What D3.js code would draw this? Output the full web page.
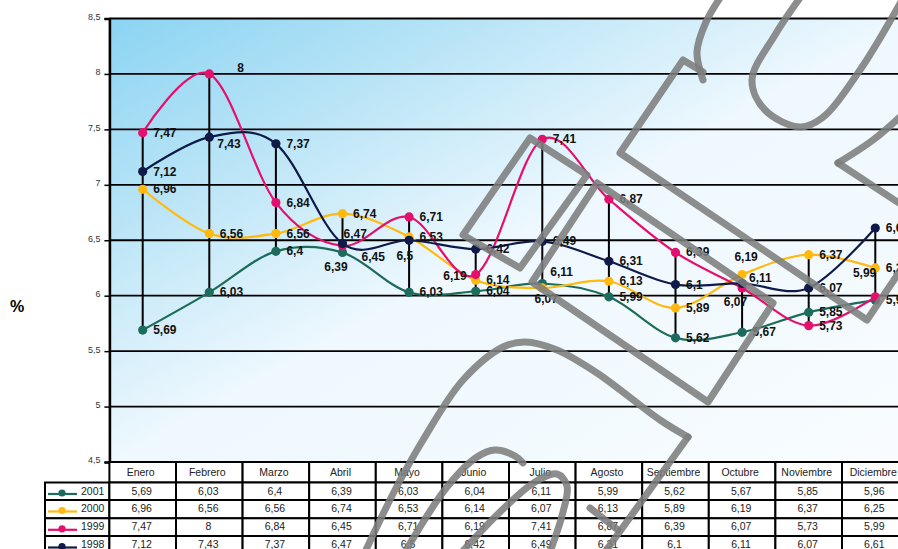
<!DOCTYPE html>
<html><head><meta charset="utf-8">
<script src="https://cdn.jsdelivr.net/npm/d3@7"></script>
<style>body{margin:0;background:#fff}svg{display:block;font-family:"Liberation Sans",Arial,sans-serif}</style>
</head><body><svg id="c" width="898" height="549"></svg>
<script>
// ---- data ----
const months = ["Enero","Febrero","Marzo","Abril","Mayo","Junio","Julio","Agosto","Septiembre","Octubre","Noviembre","Diciembre"];
const years = ["2001","2000","1999","1998"];
const v2001 = [5.69,6.03,6.4,6.39,6.03,6.04,6.11,5.99,5.62,5.67,5.85,5.96];
const v2000 = [6.96,6.56,6.56,6.74,6.53,6.14,6.07,6.13,5.89,6.19,6.37,6.25];
const v1999 = [7.47,8,6.84,6.45,6.71,6.19,7.41,6.87,6.39,6.07,5.73,5.99];
const v1998 = [7.12,7.43,7.37,6.47,6.5,6.42,6.49,6.31,6.1,6.11,6.07,6.61];
const yTicks = [4.5,5,5.5,6,6.5,7,7.5,8,8.5];
const yTitle = "%";

// ---- styling ----
const seriesValues = {"2001": v2001, "2000": v2000, "1999": v1999, "1998": v1998};
const seriesColor = {"2001": "#1d6b5c", "2000": "#ffb90f", "1999": "#e5106d", "1998": "#0f1a48"};
// label placement tweaks (dx, baseline dy, anchor) keyed "year-monthIndex"
const labelNudge = {
  "1999-1": [28,-2,"start"], "1999-3": [19,15,"start"], "1999-5": [-9,5.5,"end"],
  "1999-9": [5,18,"end"], "1999-11": [1,-20,"end"],
  "2000-6": [4,15,"middle"], "2000-9": [4,-13.5,"middle"],
  "2001-3": [-6.5,18.5,"middle"], "2001-6": [8,-7.5,"start"],
  "1998-1": [8,11,"start"], "1998-3": [1,-5.5,"start"], "1998-4": [4,20,"end"],
  "1998-9": [7,-1,"start"]
};

const fmt = v => String(v).replace(".", ",");
const svg = d3.select("#c");
const W = 898, H = 549;
const plotL = 109.4, plotR = 908.6, plotT = 18.5, plotB = 462;

const x = d3.scaleBand().domain(months).range([plotL, plotR]);
const cx = m => x(m) + x.bandwidth() / 2;
const y = d3.scaleLinear().domain([4.5, 8.5]).range([plotB, plotT]);

// background gradient
const defs = svg.append("defs");
const g = defs.append("linearGradient").attr("id","bg").attr("x1",0).attr("y1",0).attr("x2",1).attr("y2",1);
g.append("stop").attr("offset","0").attr("stop-color","#8bd4f3");
g.append("stop").attr("offset","0.22").attr("stop-color","#b6e3f6");
g.append("stop").attr("offset","0.5").attr("stop-color","#eef8fe");
g.append("stop").attr("offset","1").attr("stop-color","#f8fcff");
svg.append("rect").attr("x", plotL).attr("y", plotT).attr("width", plotR - plotL).attr("height", plotB - plotT).attr("fill","url(#bg)");

// gridlines
svg.append("g").selectAll("line").data(yTicks).join("line")
  .attr("x1", plotL).attr("x2", plotR).attr("y1", d => y(d)).attr("y2", d => y(d))
  .attr("stroke","#000").attr("stroke-width",1.8);

// y axis
const yAxis = d3.axisLeft(y).tickValues(yTicks).tickSize(5).tickPadding(4).tickFormat(fmt);
const ya = svg.append("g").attr("transform", `translate(${plotL},0)`).call(yAxis);
ya.select(".domain").attr("stroke","#000").attr("stroke-width",2.6);
ya.selectAll(".tick line").attr("stroke","#000").attr("stroke-width",1.5);
ya.selectAll(".tick text").attr("font-size","9px").attr("fill","#333").attr("font-family","'Liberation Sans',Arial,sans-serif").attr("dy","0.1em");

svg.append("text").attr("x", 17).attr("y", 312).attr("text-anchor","middle")
  .attr("font-size","16px").attr("font-weight","bold").attr("fill","#000").text(yTitle);

// high-low lines
svg.append("g").selectAll("line").data(months).join("line")
  .attr("x1", m => cx(m)).attr("x2", m => cx(m))
  .attr("y1", (m,i) => y(d3.max(years, yr => seriesValues[yr][i])))
  .attr("y2", (m,i) => y(d3.min(years, yr => seriesValues[yr][i])))
  .attr("stroke","#000").attr("stroke-width",2);

// series lines + markers
const line = d3.line().x((d,i) => cx(months[i])).y(d => y(d)).curve(d3.curveCatmullRom.alpha(0));
years.forEach(yr => {
  const gs = svg.append("g");
  gs.append("path").datum(seriesValues[yr]).attr("d", line).attr("fill","none")
    .attr("stroke", seriesColor[yr]).attr("stroke-width",2.2);
  gs.selectAll("circle").data(seriesValues[yr]).join("circle")
    .attr("cx", (d,i) => cx(months[i])).attr("cy", d => y(d)).attr("r",4.6).attr("fill", seriesColor[yr]);
});

// data labels
years.forEach(yr => {
  svg.append("g").selectAll("text").data(seriesValues[yr]).join("text")
    .attr("x", (d,i) => cx(months[i]) + (labelNudge[yr+"-"+i] ? labelNudge[yr+"-"+i][0] : 10.5))
    .attr("y", (d,i) => y(d) + (labelNudge[yr+"-"+i] ? labelNudge[yr+"-"+i][1] : 4))
    .attr("text-anchor", (d,i) => labelNudge[yr+"-"+i] ? labelNudge[yr+"-"+i][2] : "start")
    .attr("font-size","12px").attr("font-weight","bold").attr("fill","#111")
    .text(d => fmt(d));
});

// data table
const hdrTop = plotB, hdrBot = 482.5;
const rowTops = [482.5, 500, 518.3, 536];
const rowH = 18;
const legL = 45;
const tg = svg.append("g");
// header cells
tg.selectAll("rect.h").data(months).join("rect").attr("class","h")
  .attr("x", m => x(m)).attr("y", hdrTop).attr("width", x.bandwidth()).attr("height", hdrBot - hdrTop)
  .attr("fill","#fff").attr("stroke","#000").attr("stroke-width",2);
tg.selectAll("text.h").data(months).join("text").attr("class","h")
  .attr("x", m => cx(m) - 2).attr("y", hdrTop + 13.5).attr("text-anchor","middle")
  .attr("font-size","10.5px").attr("fill","#222").text(m => m);
years.forEach((yr, r) => {
  const top = rowTops[r];
  const h = (r < 3 ? rowTops[r+1] : top + rowH) - top;
  tg.append("rect").attr("x", legL).attr("y", top).attr("width", plotL - legL).attr("height", h)
    .attr("fill","#fff").attr("stroke","#000").attr("stroke-width",2);
  tg.append("line").attr("x1", legL + 3).attr("x2", legL + 32).attr("y1", top + 11.5).attr("y2", top + 11.5)
    .attr("stroke", seriesColor[yr]).attr("stroke-width",2.2);
  tg.append("circle").attr("cx", legL + 17).attr("cy", top + 10.5).attr("r",3.6).attr("fill", seriesColor[yr]);
  tg.append("text").attr("x", legL + 36).attr("y", top + 12).attr("font-size","10.5px").attr("fill","#222").text(yr);
  tg.selectAll(null).data(seriesValues[yr]).join("rect")
    .attr("x", (d,i) => x(months[i])).attr("y", top).attr("width", x.bandwidth()).attr("height", h)
    .attr("fill","#fff").attr("stroke","#000").attr("stroke-width",2);
  tg.selectAll(null).data(seriesValues[yr]).join("text")
    .attr("x", (d,i) => cx(months[i]) - 1).attr("y", top + 12).attr("text-anchor","middle")
    .attr("font-size","10.5px").attr("fill","#222").text(d => fmt(d));
});

// decorative watermark strokes (not data)
const wmCurves = [
  [[722,-5],[706,22],[697,52],[703,80]],
  [[802,-5],[775,35],[752,80],[765,110],[800,127],[822,118],[860,70],[902,0]],
  [[902,115],[873,140],[838,163]],
  [[365,552],[395,490],[423,440],[463,380],[503,347],[525,342],[557,350],[597,373],[660,420],[688,437]],
  [[405,552],[447,487],[477,457],[495,450],[515,456],[523,463]],
  [[462,552],[500,512],[535,482],[557,474],[567,486],[563,512],[550,552]]
];
const wmPolys = [
  [[530,138],[587,175],[520,268],[463,235],[530,138]],
  [[597,183],[773,303],[708,402],[532,282],[597,183]],
  [[703,72],[683,60],[620,153],[867,320],[902,268]],
  [[838,163],[902,205]],
  [[688,437],[605,552]],
  [[590,508],[618,530]]
];
const wg = svg.append("g").attr("fill","none").attr("stroke","#7d7d7d").attr("stroke-opacity",0.88)
  .attr("stroke-width",7).attr("stroke-linecap","round").attr("stroke-linejoin","round");
wmCurves.forEach(p => wg.append("path").attr("d", d3.line().curve(d3.curveCatmullRom)(p)));
wmPolys.forEach(p => wg.append("path").attr("d", d3.line()(p)));
</script></body></html>
